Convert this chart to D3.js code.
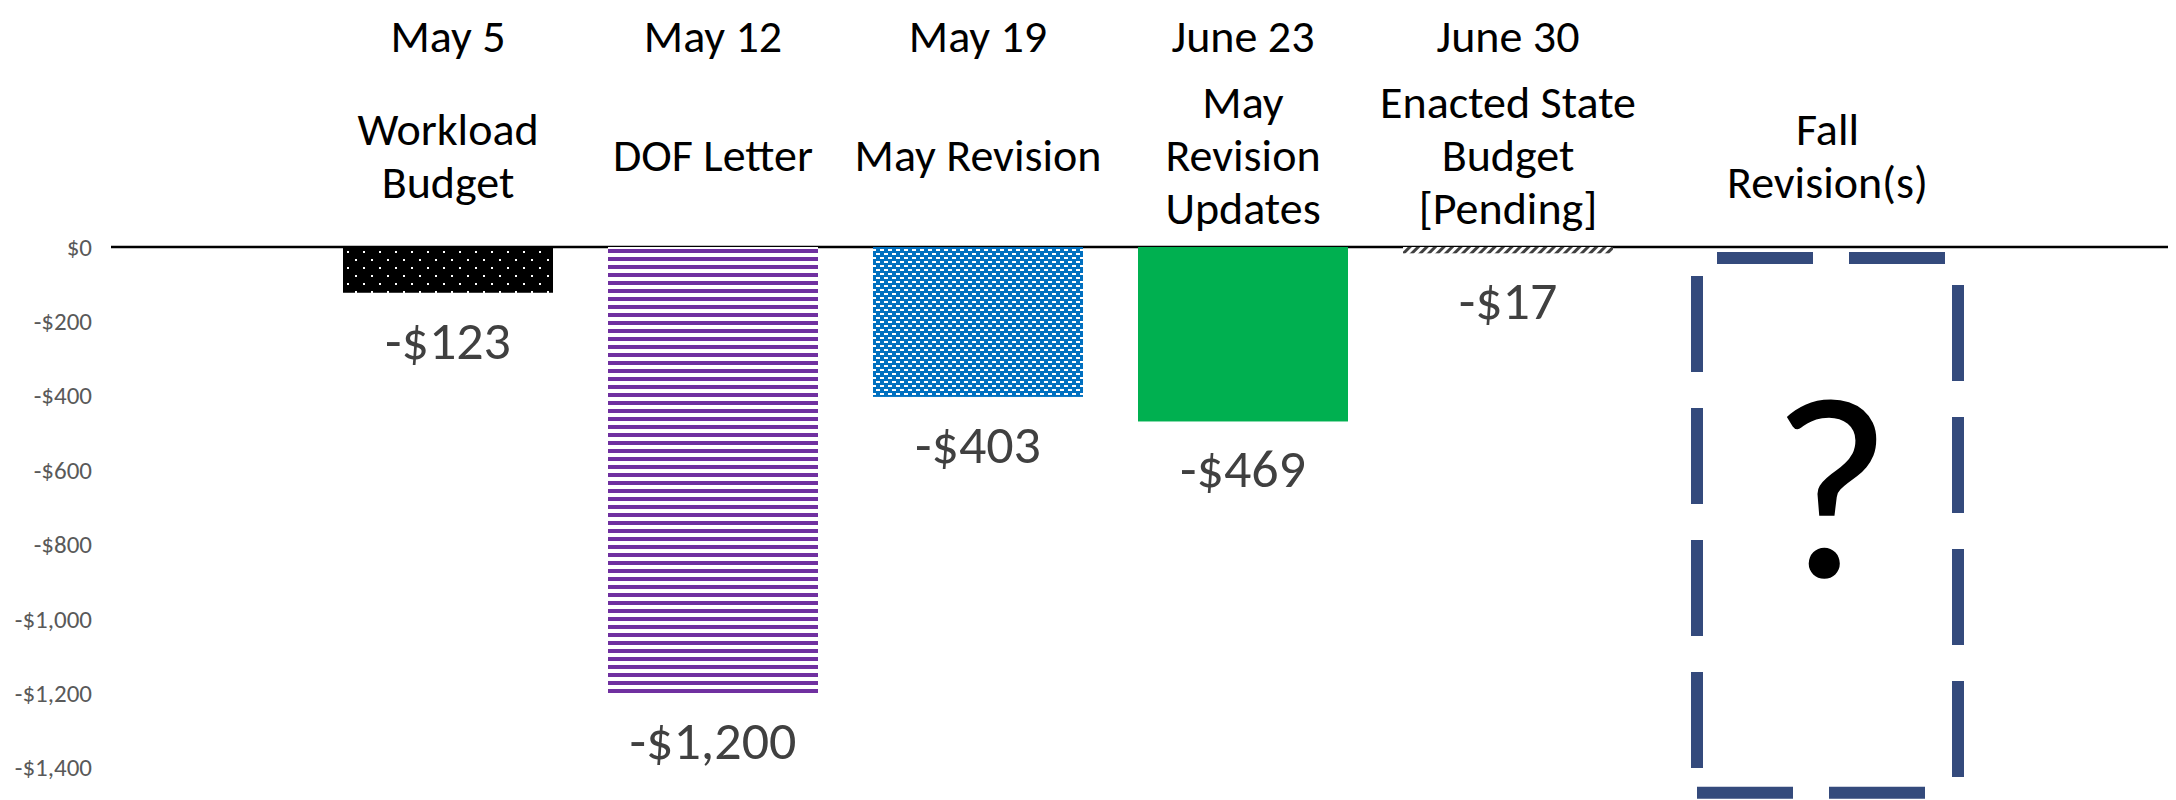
<!DOCTYPE html>
<html>
<head>
<meta charset="utf-8">
<script src="https://cdn.jsdelivr.net/npm/d3@7/dist/d3.min.js"></script>
<style>
  body { margin: 0; background: #fff; }
  text { font-family: Carlito, Calibri, Lato, Roboto, sans-serif; }
</style>
</head>
<body>
<div id="chart"></div>
<script>
// budget milestones (values in $ millions)
var categories = ["Workload Budget", "DOF Letter", "May Revision", "May Revision Updates", "Enacted State Budget [Pending]", "Fall Revision(s)"];
var dates = ["May 5", "May 12", "May 19", "June 23", "June 30", ""];
var titleLines = [["Workload", "Budget"], ["DOF Letter"], ["May Revision"], ["May", "Revision", "Updates"], ["Enacted State", "Budget", "[Pending]"], ["Fall", "Revision(s)"]];
var values = [-123, -1200, -403, -469, -17, null];
var yTicks = [0, -200, -400, -600, -800, -1000, -1200, -1400];

var barFills = ["url(#dots)", "url(#stripes)", "url(#bricks)", "#00B050", "url(#hatch)", "none"];

var width = 2176, height = 800;

var svg = d3.select("#chart").append("svg")
    .attr("width", width)
    .attr("height", height);

// fill patterns
var defs = svg.append("defs");

var dots = defs.append("pattern").attr("id", "dots")
    .attr("patternUnits", "userSpaceOnUse").attr("width", 16).attr("height", 16);
dots.append("rect").attr("width", 16).attr("height", 16).attr("fill", "#000");
dots.append("rect").attr("x", 3).attr("y", 3).attr("width", 2).attr("height", 2).attr("fill", "#fff");
dots.append("rect").attr("x", 11).attr("y", 11).attr("width", 2).attr("height", 2).attr("fill", "#fff");

var stripes = defs.append("pattern").attr("id", "stripes")
    .attr("patternUnits", "userSpaceOnUse").attr("width", 8).attr("height", 8);
stripes.append("rect").attr("width", 8).attr("height", 8).attr("fill", "#fff");
stripes.append("rect").attr("y", 1).attr("width", 8).attr("height", 4).attr("fill", "#7030A0");

var bricks = defs.append("pattern").attr("id", "bricks")
    .attr("patternUnits", "userSpaceOnUse").attr("width", 8).attr("height", 8);
bricks.append("rect").attr("width", 8).attr("height", 8).attr("fill", "#0070C0");
bricks.append("rect").attr("x", 0).attr("y", 1).attr("width", 4).attr("height", 2).attr("fill", "#fff");
bricks.append("rect").attr("x", 4).attr("y", 5).attr("width", 4).attr("height", 2).attr("fill", "#fff");

var hatch = defs.append("pattern").attr("id", "hatch")
    .attr("patternUnits", "userSpaceOnUse").attr("width", 6).attr("height", 6)
    .attr("patternTransform", "rotate(45)");
hatch.append("rect").attr("width", 6).attr("height", 6).attr("fill", "#fff");
hatch.append("rect").attr("width", 3).attr("height", 6).attr("fill", "#404040");

// scales
var pad = 55 / 265;
var x = d3.scaleBand()
    .domain(categories)
    .range([315.5, 315.5 + 6 * 265])
    .paddingInner(pad)
    .paddingOuter(pad / 2);

var y = d3.scaleLinear()
    .domain([0, -1400])
    .range([247, 247 + 1400 * 0.372]);

var fmt = function(v) {
  return (v < 0 ? "-" : "") + "$" + d3.format(",")(Math.abs(v));
};

// y axis labels
var yAxis = svg.append("g")
    .attr("transform", "translate(92,0)")
    .call(d3.axisLeft(y).tickValues(yTicks).tickSize(0).tickPadding(0).tickFormat(fmt));
yAxis.select(".domain").remove();
yAxis.selectAll("text")
    .attr("fill", "#595959")
    .style("font-size", "25px")
    .style("font-family", null);

// zero line
svg.append("line")
    .attr("x1", 111).attr("x2", 2168)
    .attr("y1", y(0)).attr("y2", y(0))
    .attr("stroke", "#000")
    .attr("stroke-width", 2.5);

// bars
var barData = categories.map(function(c, i) { return {cat: c, value: values[i], fill: barFills[i]}; })
    .filter(function(d) { return d.value !== null; });

svg.selectAll("rect.bar")
    .data(barData)
  .enter().append("rect")
    .attr("class", "bar")
    .attr("x", function(d) { return x(d.cat); })
    .attr("y", y(0))
    .attr("width", x.bandwidth())
    .attr("height", function(d) { return y(d.value) - y(0); })
    .attr("fill", function(d) { return d.fill; });

// value labels
svg.selectAll("text.value")
    .data(barData)
  .enter().append("text")
    .attr("class", "value")
    .attr("x", function(d) { return x(d.cat) + x.bandwidth() / 2; })
    .attr("y", function(d) { return y(d.value) + 47; })
    .attr("dy", "0.35em")
    .attr("text-anchor", "middle")
    .attr("fill", "#404040")
    .style("font-size", "54px")
    .text(function(d) { return fmt(d.value); });

// fall revision placeholder box
var fallCat = categories[5];
var boxLeft = x(fallCat) + 29, boxRight = boxLeft + 261;
var boxTop = y(0) + 11, boxBottom = y(-1400) + 25;
var boxCenter = (boxLeft + boxRight) / 2;

var boxSides = [
  {x1: boxLeft, y1: boxTop, x2: boxRight, y2: boxTop, off: 112},
  {x1: boxLeft, y1: boxBottom, x2: boxRight, y2: boxBottom, off: 0},
  {x1: boxLeft, y1: boxTop, x2: boxLeft, y2: boxBottom, off: 114},
  {x1: boxRight, y1: boxTop, x2: boxRight, y2: boxBottom, off: 105}
];
svg.selectAll("line.box")
    .data(boxSides)
  .enter().append("line")
    .attr("class", "box")
    .attr("x1", function(d) { return d.x1; })
    .attr("y1", function(d) { return d.y1; })
    .attr("x2", function(d) { return d.x2; })
    .attr("y2", function(d) { return d.y2; })
    .attr("stroke", "#344A7C")
    .attr("stroke-width", 12)
    .attr("stroke-dasharray", "96 36")
    .attr("stroke-dashoffset", function(d) { return d.off; });

svg.append("text")
    .attr("x", boxCenter + 4)
    .attr("y", 577)
    .attr("text-anchor", "middle")
    .attr("fill", "#000")
    .style("font-size", "260px")
    .text("?");

// header: dates and milestone names
var headerX = function(c, i) {
  return i === 5 ? boxCenter : x(c) + x.bandwidth() / 2;
};

svg.selectAll("text.date")
    .data(categories)
  .enter().append("text")
    .attr("class", "date")
    .attr("x", headerX)
    .attr("y", 52)
    .attr("text-anchor", "middle")
    .attr("fill", "#000")
    .style("font-size", "46px")
    .text(function(c, i) { return dates[i]; });

var titles = svg.selectAll("text.title")
    .data(categories)
  .enter().append("text")
    .attr("class", "title")
    .attr("text-anchor", "middle")
    .attr("fill", "#000")
    .style("font-size", "46px");

titles.each(function(c, i) {
  var lines = titleLines[i];
  var lineH = 53;
  var top = 155 - (lines.length - 1) * lineH / 2;
  d3.select(this).selectAll("tspan")
      .data(lines)
    .enter().append("tspan")
      .attr("x", headerX(c, i))
      .attr("y", function(l, j) { return top + j * lineH; })
      .attr("dy", "0.35em")
      .text(function(l) { return l; });
});
</script>
</body>
</html>
